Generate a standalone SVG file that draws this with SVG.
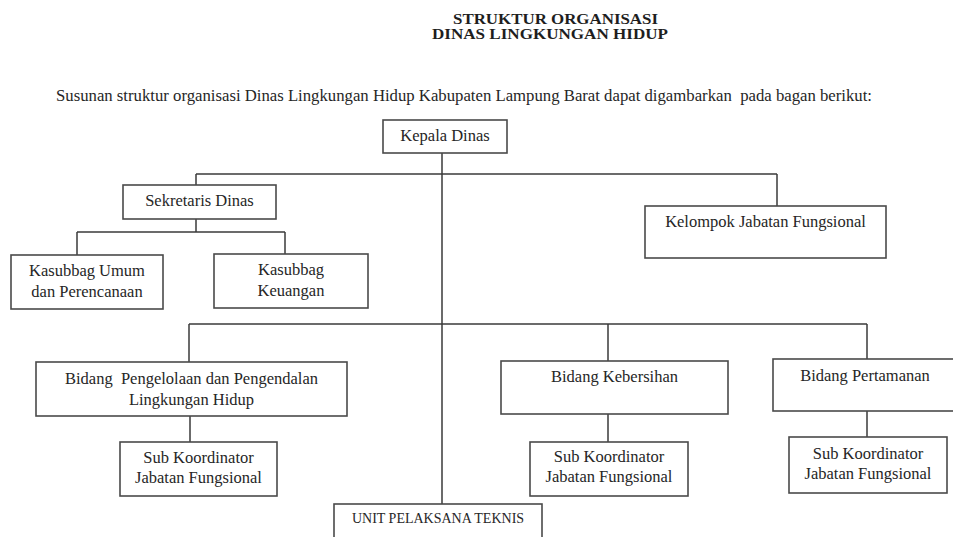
<svg xmlns="http://www.w3.org/2000/svg" width="953" height="537" viewBox="0 0 953 537">
<style>
  .bg { fill: #ffffff; }
  .box { fill: #ffffff; stroke: #4a4a4a; stroke-width: 1.6; }
  .ln { stroke: #3a3a3a; stroke-width: 1.5; fill: none; }
  .t { font-family: "Liberation Serif", "Times New Roman", serif; font-size: 16.5px; fill: #262626; text-anchor: middle; white-space: pre; }
  .upt { font-size: 14px; }
  .title { font-family: "Liberation Serif", "Times New Roman", serif; font-size: 15px; font-weight: bold; fill: #1e1e1e; text-anchor: middle; }
  .sub { font-family: "Liberation Serif", "Times New Roman", serif; font-size: 16px; fill: #262626; white-space: pre; }
</style>
<rect class="bg" x="0" y="0" width="953" height="537"/>
<g id="header">
  <text class="title" x="555.5" y="23.5" textLength="205" lengthAdjust="spacingAndGlyphs">STRUKTUR ORGANISASI</text>
  <text class="title" x="550" y="38.5" textLength="236" lengthAdjust="spacingAndGlyphs">DINAS LINGKUNGAN HIDUP</text>
  <text class="sub" x="56" y="101" textLength="816" lengthAdjust="spacingAndGlyphs">Susunan struktur organisasi Dinas Lingkungan Hidup Kabupaten Lampung Barat dapat digambarkan  pada bagan berikut:</text>
</g>
<g id="connectors">
  <path class="ln" d="M442 153 V504"/>
  <path class="ln" d="M196 174 H777"/>
  <path class="ln" d="M196 174 V185"/>
  <path class="ln" d="M777 174 V206"/>
  <path class="ln" d="M196 219 V232"/>
  <path class="ln" d="M77 232 H285"/>
  <path class="ln" d="M77 232 V255"/>
  <path class="ln" d="M285 232 V254"/>
  <path class="ln" d="M189 324 H867"/>
  <path class="ln" d="M189 324 V362"/>
  <path class="ln" d="M608 324 V361"/>
  <path class="ln" d="M867 324 V359"/>
  <path class="ln" d="M190 416 V442"/>
  <path class="ln" d="M608 414 V442"/>
  <path class="ln" d="M867 411 V437"/>
</g>
<g id="kepala-dinas">
  <rect class="box" x="383" y="120" width="124" height="33"/>
  <text class="t" x="445" y="141">Kepala Dinas</text>
</g>
<g id="sekretaris-dinas">
  <rect class="box" x="123" y="185" width="153" height="34"/>
  <text class="t" x="199.5" y="205.5">Sekretaris Dinas</text>
</g>
<g id="kasubbag-umum">
  <rect class="box" x="11" y="255" width="152" height="54"/>
  <text class="t" x="87" y="275.5">Kasubbag Umum</text>
  <text class="t" x="87" y="296.5">dan Perencanaan</text>
</g>
<g id="kasubbag-keuangan">
  <rect class="box" x="214" y="254" width="154" height="54"/>
  <text class="t" x="291" y="274.5">Kasubbag</text>
  <text class="t" x="291" y="295.5">Keuangan</text>
</g>
<g id="kelompok-jabatan-fungsional">
  <rect class="box" x="645" y="206" width="241" height="52"/>
  <text class="t" x="765.5" y="226.5">Kelompok Jabatan Fungsional</text>
</g>
<g id="bidang-pengelolaan">
  <rect class="box" x="36" y="362" width="311" height="54"/>
  <text class="t" x="191.5" y="383.5">Bidang  Pengelolaan dan Pengendalan</text>
  <text class="t" x="191.5" y="404.5">Lingkungan Hidup</text>
</g>
<g id="bidang-kebersihan">
  <rect class="box" x="501" y="361" width="227" height="53"/>
  <text class="t" x="614.5" y="381.5">Bidang Kebersihan</text>
</g>
<g id="bidang-pertamanan">
  <rect class="box" x="773" y="359" width="190" height="52"/>
  <text class="t" x="865" y="380.5">Bidang Pertamanan</text>
</g>
<g id="sub-koordinator-1">
  <rect class="box" x="120" y="442" width="157" height="54"/>
  <text class="t" x="198.5" y="462.5">Sub Koordinator</text>
  <text class="t" x="198.5" y="482.5">Jabatan Fungsional</text>
</g>
<g id="sub-koordinator-2">
  <rect class="box" x="530" y="442" width="158" height="54"/>
  <text class="t" x="609" y="461.5">Sub Koordinator</text>
  <text class="t" x="609" y="481.5">Jabatan Fungsional</text>
</g>
<g id="sub-koordinator-3">
  <rect class="box" x="789" y="437" width="158" height="56"/>
  <text class="t" x="868" y="458.5">Sub Koordinator</text>
  <text class="t" x="868" y="478.5">Jabatan Fungsional</text>
</g>
<g id="unit-pelaksana-teknis">
  <rect class="box" x="334" y="504" width="208" height="45"/>
  <text class="t upt" x="438" y="523">UNIT PELAKSANA TEKNIS</text>
</g>
</svg>
